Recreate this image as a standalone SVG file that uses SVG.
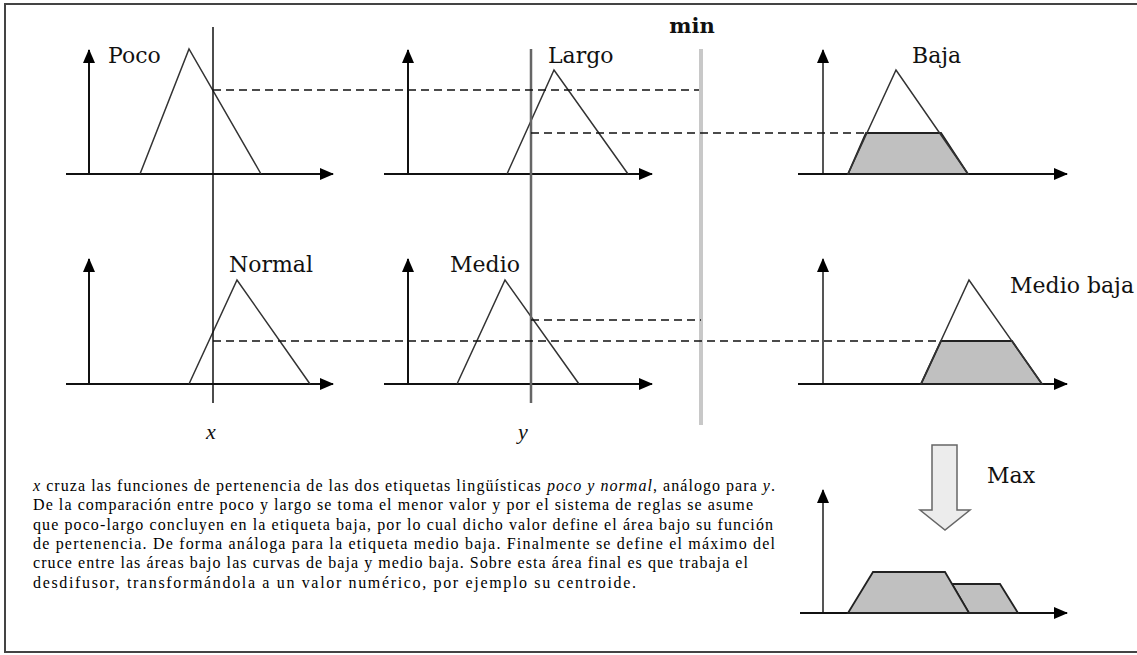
<svg xmlns="http://www.w3.org/2000/svg" width="1137" height="655" viewBox="0 0 1137 655">
<defs>
<marker id="ah" viewBox="0 0 14 12" refX="13" refY="6" markerWidth="14" markerHeight="12" markerUnits="userSpaceOnUse" orient="auto"><path d="M0,0 L14,6 L0,12 z" fill="#000"/></marker>
</defs>
<style>
.ax{stroke:#111;stroke-width:2;fill:none;marker-end:url(#ah)}
.gy{stroke:#555}
.tri{stroke:#333;stroke-width:1.5;fill:none;stroke-linejoin:miter}
.trap{stroke:#222;stroke-width:1.8;fill:#c0c0c0}
.lbl{font-family:"DejaVu Serif",serif;font-size:22px;fill:#111}
.dash{stroke:#111;stroke-width:1.5;stroke-dasharray:8 5;fill:none}
.par{font-family:"Liberation Serif",serif;font-size:16px;fill:#000}
.it{font-style:italic}
</style>
<rect x="5" y="4" width="1145" height="648" fill="#fff" stroke="#444" stroke-width="2"/>

<g id="chart-poco">
<line class="ax" x1="89" y1="174" x2="89" y2="50"/>
<line class="ax" x1="66" y1="174" x2="333" y2="174"/>
<polyline class="tri" points="140,174 189,49 261,174"/>
<text class="lbl" x="108" y="63">Poco</text>
</g>
<g id="chart-largo">
<line class="ax" x1="408" y1="174" x2="408" y2="50"/>
<line class="ax" x1="384" y1="174" x2="652" y2="174"/>
<polyline class="tri" points="507,174 554,70 628,174"/>
<text class="lbl" x="548" y="63">Largo</text>
</g>
<g id="chart-baja">
<line class="ax gy" x1="823" y1="174" x2="823" y2="50"/>
<line class="ax" x1="798" y1="174" x2="1067" y2="174"/>
<polygon class="trap" points="848,174 866,133 941,133 968,174"/>
<polyline class="tri" points="848,174 896,70 968,174"/>
<text class="lbl" x="912" y="63">Baja</text>
</g>
<g id="chart-normal">
<line class="ax" x1="89" y1="384" x2="89" y2="259"/>
<line class="ax" x1="66" y1="384" x2="333" y2="384"/>
<polyline class="tri" points="189,384 237,280 310,384"/>
<text class="lbl" x="229" y="272">Normal</text>
</g>
<g id="chart-medio">
<line class="ax" x1="408" y1="384" x2="408" y2="259"/>
<line class="ax" x1="384" y1="384" x2="652" y2="384"/>
<polyline class="tri" points="457,384 505,280 579,384"/>
<text class="lbl" x="450" y="272">Medio</text>
</g>
<g id="chart-medio-baja">
<line class="ax gy" x1="823" y1="384" x2="823" y2="259"/>
<line class="ax" x1="798" y1="384" x2="1067" y2="384"/>
<polygon class="trap" points="921,384 941,341 1012,341 1042,384"/>
<polyline class="tri" points="921,384 969,280 1042,384"/>
<text class="lbl" x="1010" y="293">Medio baja</text>
</g>
<g id="chart-max">
<line class="ax gy" x1="823" y1="613" x2="823" y2="490"/>
<line class="ax" x1="800" y1="613" x2="1067" y2="613"/>
<polygon class="trap" points="952,584 1000,584 1018,613 969,613"/>
<polygon class="trap" points="848,613 873,572 945,572 969,613"/>
</g>
<g id="max-arrow">
<polygon points="932,445 957,445 957,510 970,510 945,530 920,510 932,510" fill="#ececec" stroke="#666" stroke-width="1.5"/>
<text class="lbl" x="987" y="483">Max</text>
</g>

<g id="connectors">
<line x1="213" y1="27" x2="213" y2="403" stroke="#111" stroke-width="1.5"/>
<line x1="531" y1="49" x2="531" y2="403" stroke="#666" stroke-width="2.5"/>
<line x1="701" y1="49" x2="701" y2="425" stroke="#c8c8c8" stroke-width="4"/>
<line class="dash" x1="213" y1="90" x2="699" y2="90"/>
<line class="dash" x1="531" y1="133" x2="866" y2="133"/>
<line class="dash" x1="531" y1="320" x2="701" y2="320"/>
<line class="dash" x1="213" y1="341" x2="941" y2="341"/>
</g>

<g id="labels">
<text x="692" y="33" text-anchor="middle" font-family="DejaVu Serif, serif" font-weight="bold" font-size="21" fill="#111">min</text>
<text x="206" y="439" font-family="Liberation Serif, serif" font-style="italic" font-size="22" fill="#111">x</text>
<text x="518" y="439" font-family="Liberation Serif, serif" font-style="italic" font-size="22" fill="#111">y</text>
</g>

<g id="paragraph">
<text class="par" x="33" y="491" textLength="742" lengthAdjust="spacing"><tspan class="it">x</tspan> cruza las funciones de pertenencia de las dos etiquetas lingüísticas <tspan class="it">poco y normal</tspan>, análogo para <tspan class="it">y</tspan>.</text>
<text class="par" x="33" y="510" textLength="720" lengthAdjust="spacing">De la comparación entre poco y largo se toma el menor valor y por el sistema de reglas se asume</text>
<text class="par" x="33" y="530" textLength="740" lengthAdjust="spacing">que poco-largo concluyen en la etiqueta baja, por lo cual dicho valor define el área bajo su función</text>
<text class="par" x="33" y="549" textLength="742" lengthAdjust="spacing">de pertenencia.  De forma análoga para la etiqueta medio baja.  Finalmente se define el máximo del</text>
<text class="par" x="33" y="568" textLength="715" lengthAdjust="spacing">cruce entre las áreas bajo las curvas de baja y medio baja.  Sobre esta área final es que trabaja el</text>
<text class="par" x="33" y="588" textLength="603" lengthAdjust="spacing">desdifusor, transformándola a un valor numérico, por ejemplo su centroide.</text>
</g>
</svg>
